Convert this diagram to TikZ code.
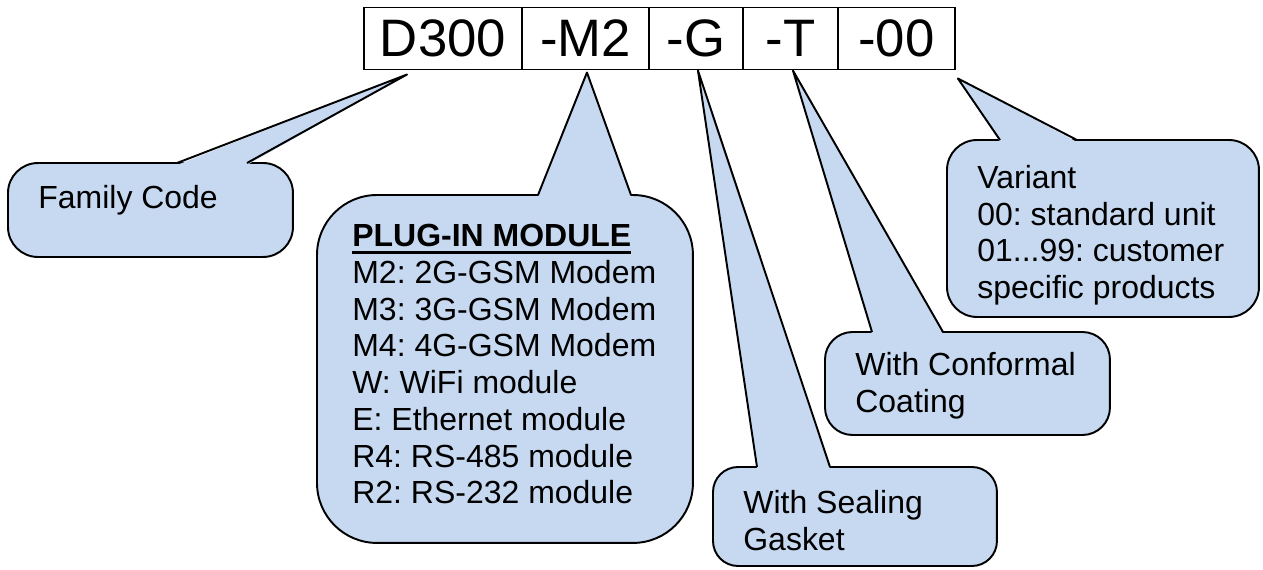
\documentclass[tikz,border=0pt]{standalone}
\usepackage{fontspec}
\setmainfont{Liberation Sans}
\usetikzlibrary{positioning,calc}
\definecolor{bubbleblue}{HTML}{C6D9F1}
\newcommand{\headul}[1]{\setbox0\hbox{#1}\rlap{\rule[-4pt]{\wd0}{1.8pt}}\box0}
\frenchspacing

\begin{document}
\begin{tikzpicture}[x=0.02cm,y=-0.02cm,
  code/.style={draw,line width=1.1pt,inner sep=0pt,outer sep=0pt,minimum height=1.24cm,font=\fontsize{30}{36}\selectfont},
  bubble/.style={draw,fill=bubbleblue,line width=1.1pt,rounded corners=0.6cm,anchor=north west,inner sep=0pt,outer sep=0pt},
  note/.style={anchor=north west,inner sep=0pt,align=left,font=\fontsize{18.2}{20.9}\selectfont},
  wedgeline/.style={line width=1.1pt,line join=round}]

\useasboundingbox (0,0) rectangle (1263,569);

% Draw the part number boxes
\node[code,minimum width=3.16cm,anchor=west] (d300) at (364,38.5) {D300};
\node[code,minimum width=2.54cm,right=0pt of d300] (m2) {-M2};
\node[code,minimum width=1.88cm,right=0pt of m2] (g) {-G};
\node[code,minimum width=1.9cm,right=0pt of g] (t) {-T};
\node[code,minimum width=2.34cm,right=0pt of t] (v00) {-00};

% Where the tails point
\coordinate (famTip) at ($(d300.south west)+(43,5)$);
\coordinate (plugTip) at ($(m2.south)+(1.5,3)$);
\coordinate (gaskTip) at ($(g.south)+(2,1)$);
\coordinate (confTip) at ($(t.south)+(2.5,1)$);
\coordinate (varTip) at ($(v00.south east)+(3,9)$);

% Draw the bubbles
\node[bubble,minimum width=5.7cm,minimum height=1.88cm] (famBox) at (8,163) {};
\node[bubble,minimum width=7.52cm,minimum height=6.96cm,rounded corners=1.2cm] (plugBox) at (317,195) {};
\node[bubble,minimum width=5.68cm,minimum height=1.98cm,rounded corners=0.5cm] (gaskBox) at (713,467) {};
\node[bubble,minimum width=5.7cm,minimum height=2.06cm,rounded corners=0.55cm] (confBox) at (825,332) {};
\node[bubble,minimum width=6.24cm,minimum height=3.54cm] (varBox) at (947,140) {};

% Draw the tails
\fill[bubbleblue] ($(famBox.north west)+(169,2)$) -- (famTip) -- ($(famBox.north west)+(239,2)$) -- cycle;
\draw[wedgeline] ($(famBox.north west)+(169,0)$) -- (famTip) -- ($(famBox.north west)+(239,0)$);
\fill[bubbleblue] ($(plugBox.north west)+(221,2)$) -- (plugTip) -- ($(plugBox.north west)+(314,2)$) -- cycle;
\draw[wedgeline] ($(plugBox.north west)+(221,0)$) -- (plugTip) -- ($(plugBox.north west)+(314,0)$);
\fill[bubbleblue] ($(gaskBox.north west)+(44,2)$) -- (gaskTip) -- ($(gaskBox.north west)+(117,2)$) -- cycle;
\draw[wedgeline] ($(gaskBox.north west)+(44,0)$) -- (gaskTip) -- ($(gaskBox.north west)+(117,0)$);
\fill[bubbleblue] ($(confBox.north west)+(47,2)$) -- (confTip) -- ($(confBox.north west)+(118,2)$) -- cycle;
\draw[wedgeline] ($(confBox.north west)+(47,0)$) -- (confTip) -- ($(confBox.north west)+(118,0)$);
\fill[bubbleblue] ($(varBox.north west)+(53,2)$) -- (varTip) -- ($(varBox.north west)+(130,2)$) -- cycle;
\draw[wedgeline] ($(varBox.north west)+(53,0)$) -- (varTip) -- ($(varBox.north west)+(130,0)$);

% Bubble texts
\node[note] (famText) at (38,185) {Family Code};
\node[note] (plugText) at (352,224) {\headul{\bfseries PLUG-IN MODULE}\\
  M2: 2G-GSM Modem\\ M3: 3G-GSM Modem\\ M4: 4G-GSM Modem\\
  W: WiFi module\\ E: Ethernet module\\ R4: RS-485 module\\ R2: RS-232 module};
\node[note] (gaskText) at (743,490) {With Sealing\\ Gasket};
\node[note] (confText) at (855,352) {With Conformal\\ Coating};
\node[note] (varText) at (977,165) {Variant\\ 00: standard unit\\ 01...99: customer\\ specific products};

\end{tikzpicture}
\end{document}
